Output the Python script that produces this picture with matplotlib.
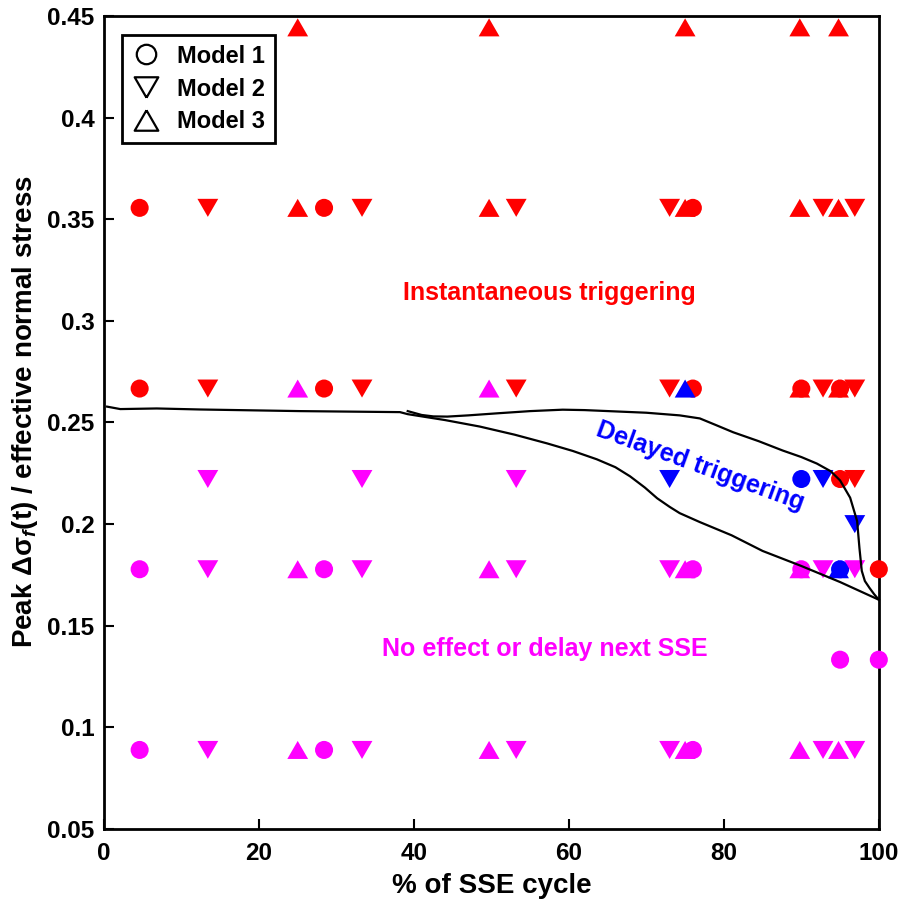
import matplotlib
matplotlib.use('Agg')
import matplotlib.pyplot as plt
from matplotlib.lines import Line2D
import numpy as np

plt.rcParams['font.family'] = ['Liberation Sans', 'DejaVu Sans']
plt.rcParams['font.weight'] = 'bold'
plt.rcParams['mathtext.fontset'] = 'custom'
plt.rcParams['mathtext.it'] = 'Liberation Sans:bold:italic'
plt.rcParams['mathtext.rm'] = 'Liberation Sans:bold'

RED, BLUE, MAG = '#ff0000', '#0000ff', '#ff00ff'

# Model 1 (circles)
m1_x = [4.6, 28.4, 76.0,
        4.6, 28.4, 76.0, 90.0, 95.0,
        90.0, 95.0,
        4.6, 28.4, 76.0, 90.0, 95.0, 100.0,
        95.0, 100.0,
        4.6, 28.4, 76.0]
m1_y = [0.3556, 0.3556, 0.3556,
        0.2667, 0.2667, 0.2667, 0.2667, 0.2667,
        0.2222, 0.2222,
        0.1778, 0.1778, 0.1778, 0.1778, 0.1778, 0.1778,
        0.1333, 0.1333,
        0.0889, 0.0889, 0.0889]
m1_c = [RED, RED, RED,
        RED, RED, RED, RED, RED,
        BLUE, RED,
        MAG, MAG, MAG, MAG, BLUE, RED,
        MAG, MAG,
        MAG, MAG, MAG]

# Model 2 (down triangles)
m2_x = [13.4, 33.3, 53.2, 73.0, 92.8, 96.9,
        13.4, 33.3, 53.2, 73.0, 92.8, 96.9,
        13.4, 33.3, 53.2, 73.0, 92.8, 96.9,
        96.9,
        13.4, 33.3, 53.2, 73.0, 92.8, 96.9,
        13.4, 33.3, 53.2, 73.0, 92.8, 96.9]
m2_y = [0.3556] * 6 + [0.2667] * 6 + [0.2222] * 6 + [0.2] + [0.1778] * 6 + [0.0889] * 6
m2_c = [RED] * 6 + [RED] * 6 + [MAG, MAG, MAG, BLUE, BLUE, RED] + [BLUE] + [MAG] * 6 + [MAG] * 6

# Model 3 (up triangles)
m3_x = [25.0, 49.7, 75.0, 89.8, 94.8] * 5
m3_y = [0.4444] * 5 + [0.3556] * 5 + [0.2667] * 5 + [0.1778] * 5 + [0.0889] * 5
m3_c = ([RED] * 5 + [RED] * 5 + [MAG, MAG, BLUE, RED, RED]
        + [MAG, MAG, MAG, MAG, BLUE] + [MAG] * 5)

# boundary curves
upper_x = [0.4, 2.1, 6.8, 12.4, 25.3, 38.2, 39.2, 44.0, 48.5, 53.0, 57.2, 60.5, 63.6, 66.0,
           67.9, 69.8, 71.4, 73.0, 74.3, 76.9, 81.0, 85.0, 90.0, 95.0, 100.0]
upper_y = [0.2578, 0.2566, 0.2569, 0.2564, 0.2556, 0.2551, 0.2541, 0.2512, 0.2480, 0.2440,
           0.2397, 0.2360, 0.2319, 0.2280, 0.2235, 0.2180, 0.2127, 0.2085, 0.2054, 0.2010,
           0.1945, 0.1868, 0.1794, 0.1715, 0.1628]
delay_x = [39.2, 41.0, 42.5, 44.3, 47.0, 50.7, 55.0, 59.2, 62.0, 65.7, 70.0, 74.3, 76.9,
           79.0, 81.2, 84.5, 87.6, 90.0, 92.0, 93.8, 95.0, 96.3, 97.2, 97.5, 97.8, 98.2,
           98.8, 99.4, 100.0]
delay_y = [0.2556, 0.2537, 0.2530, 0.2529, 0.2535, 0.2545, 0.2556, 0.2563, 0.2561, 0.2555,
           0.2548, 0.2535, 0.2520, 0.2487, 0.2452, 0.2408, 0.2362, 0.2330, 0.2298, 0.2260,
           0.2215, 0.2130, 0.2015, 0.1882, 0.1770, 0.1720, 0.1686, 0.1655, 0.1628]

x_ticks = [0, 20, 40, 60, 80, 100]
y_ticks = [0.05, 0.1, 0.15, 0.2, 0.25, 0.3, 0.35, 0.4, 0.45]
y_tick_labels = ['0.05', '0.1', '0.15', '0.2', '0.25', '0.3', '0.35', '0.4', '0.45']

# triangle shapes (equilateral-ish)
tri_up = [(0, 0.866), (-1, -0.866), (1, -0.866), (0, 0.866)]
tri_down = [(0, -0.866), (-1, 0.866), (1, 0.866), (0, -0.866)]

fig = plt.figure(figsize=(9.02, 9.08), dpi=100)
ax = fig.add_axes([0.1153, 0.087, 0.859, 0.8954])

ax.scatter(m1_x, m1_y, c=m1_c, marker='o', s=13 ** 2, linewidths=0, zorder=3, clip_on=False)
ax.scatter(m2_x, m2_y, c=m2_c, marker=tri_down, s=15 ** 2, linewidths=0, zorder=4, clip_on=False)
ax.scatter(m3_x, m3_y, c=m3_c, marker=tri_up, s=15 ** 2, linewidths=0, zorder=5, clip_on=False)

ax.plot(upper_x, upper_y, color='k', lw=1.6, zorder=6, clip_on=False)
ax.plot(delay_x, delay_y, color='k', lw=1.6, zorder=6, clip_on=False)

ax.text(57.5, 0.3137, 'Instantaneous triggering', color=RED, fontsize=18,
        fontweight='bold', ha='center', va='center')
ax.text(76.9, 0.2284, 'Delayed triggering', color=BLUE, fontsize=18,
        fontweight='bold', ha='center', va='center', rotation=-20)
ax.text(56.9, 0.1387, 'No effect or delay next SSE', color=MAG, fontsize=18,
        fontweight='bold', ha='center', va='center')

handles = [
    Line2D([], [], ls='none', marker='o', ms=14, mfc='none', mec='k', mew=1.6),
    Line2D([], [], ls='none', marker=tri_down, ms=17, mfc='none', mec='k', mew=1.6),
    Line2D([], [], ls='none', marker=tri_up, ms=17, mfc='none', mec='k', mew=1.6),
]
leg = ax.legend(handles, ['Model 1', 'Model 2', 'Model 3'], loc='upper left',
                bbox_to_anchor=(0.023, 0.977), borderaxespad=0, fancybox=False,
                framealpha=1, edgecolor='k', prop={'size': 17, 'weight': 'bold'},
                handlelength=1.2, handletextpad=0.7, labelspacing=0.42, borderpad=0.42)
leg.get_frame().set_linewidth(2)

ax.set_xlim(0, 100)
ax.set_ylim(0.05, 0.45)
ax.set_xticks(x_ticks)
ax.set_yticks(y_ticks)
ax.set_yticklabels(y_tick_labels)
ax.tick_params(direction='in', length=7, width=1.5, labelsize=17.5, top=False, right=False, pad=7)
ax.tick_params(axis='x', pad=9)
for lab in ax.get_xticklabels() + ax.get_yticklabels():
    lab.set_fontweight('bold')
for sp in ax.spines.values():
    sp.set_linewidth(2)

ax.set_xlabel('% of SSE cycle', fontsize=20, fontweight='bold', labelpad=6)
ax.set_ylabel('Peak \u0394\u03c3$_f$(t) / effective normal stress', fontsize=20,
              fontweight='bold')
ax.yaxis.set_label_coords(-0.083, 0.513)

fig.savefig('out.png', dpi=100)
